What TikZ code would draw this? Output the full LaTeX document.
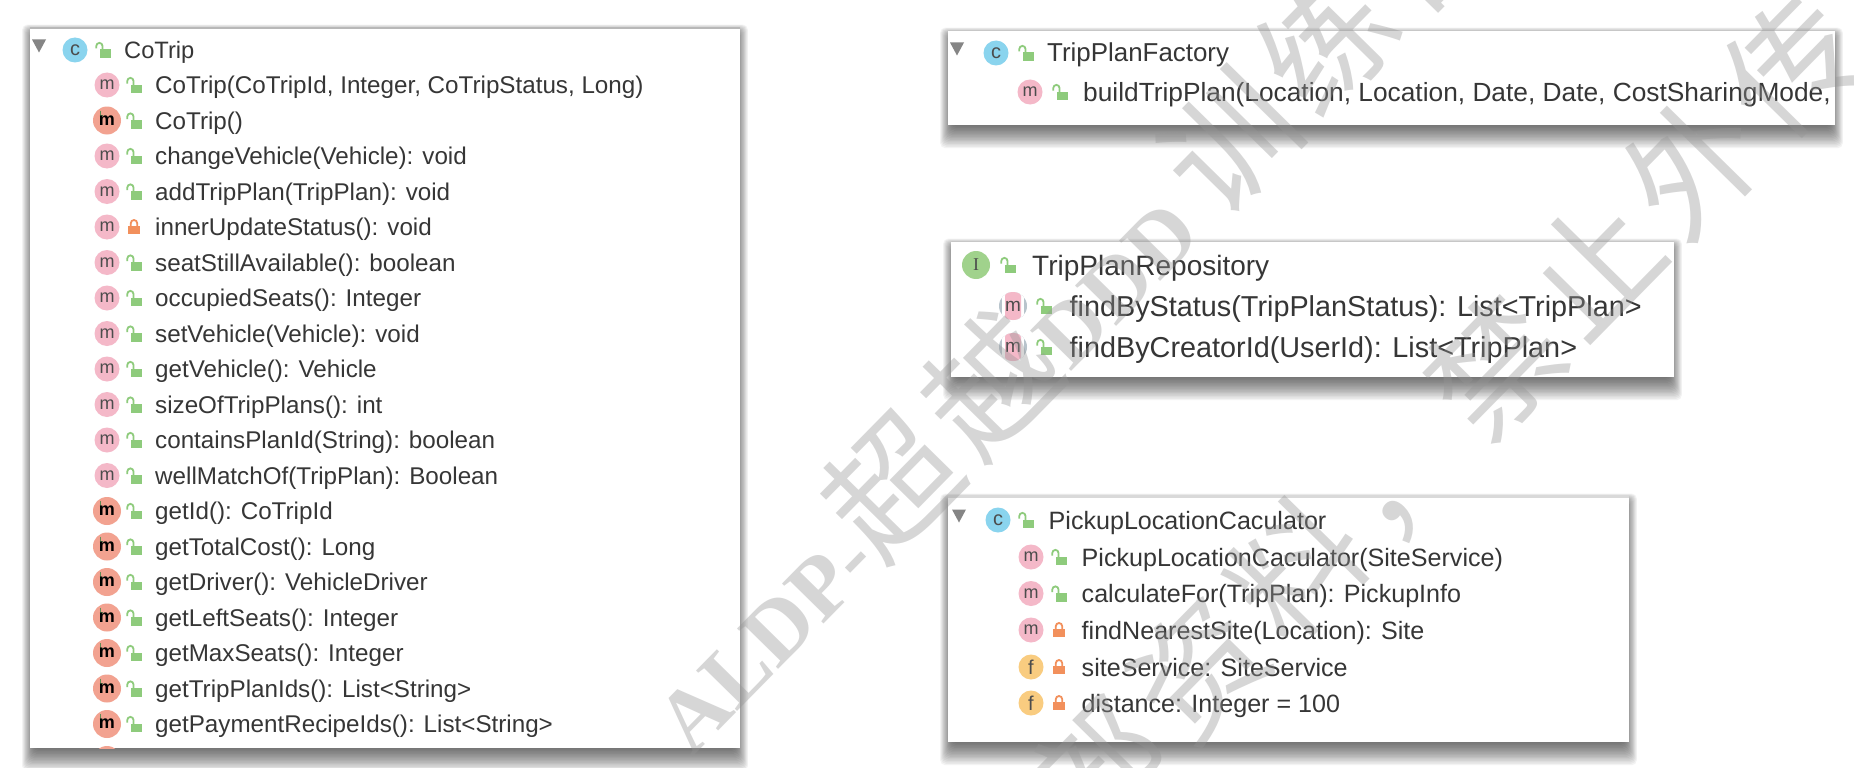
\documentclass[tikz,border=0pt]{standalone}
\usepackage{fontspec}
\setmainfont{Liberation Sans}
\newfontfamily\markfont{Liberation Serif}
\newfontfamily\cjkfont[LetterSpace=8.5]{Noto Sans CJK SC}
\usetikzlibrary{shapes.geometric}

\definecolor{pubpink}{HTML}{F4B8C8}
\definecolor{overred}{HTML}{F2A290}
\definecolor{classblue}{HTML}{8AD4EE}
\definecolor{ifacegreen}{HTML}{A0D28C}
\definecolor{fieldorange}{HTML}{F9CC80}
\definecolor{lockgreen}{HTML}{8ECB7C}
\definecolor{lockorange}{HTML}{F2905C}
\definecolor{labelgrey}{HTML}{363636}
\definecolor{ringgrey}{HTML}{B8C4CC}

\newcommand{\panelshadow}[4]{
\foreach \d in {1,...,16}
  \fill[black,opacity=.048,rounded corners=5pt] (#1+5-.8*\d,#2+7-.65*\d) rectangle (#3-5+.8*\d,#4+1.45*\d);
}
\newcommand{\marklatin}{\markfont\bfseries\fontsize{88}{88}\selectfont}
\newcommand{\markcjk}{\cjkfont\mdseries\fontsize{130}{130}\selectfont}

\tikzset{
  panel/.style={rectangle,fill=white,anchor=north west,inner sep=0pt},
  iconm/.style={circle,fill=pubpink,minimum size=25pt,inner sep=0pt,text=black!70,font=\fontsize{18}{18}\selectfont},
  iconover/.style={circle,fill=overred,minimum size=28pt,inner sep=0pt,font=\fontsize{18}{18}\bfseries\selectfont,
    path picture={\draw[lockgreen!70!black,line width=.7pt] ([xshift=-7pt,yshift=10pt]path picture bounding box.center) -- ++(0pt,-5pt) -- ++(3pt,0pt);}},
  iconc/.style={circle,fill=classblue,minimum size=25pt,inner sep=0pt,text=black!70,font=\fontsize{20}{20}\selectfont},
  iconi/.style={circle,fill=ifacegreen,minimum size=28pt,inner sep=0pt,text=black!70,font=\fontsize{18}{18}\markfont\selectfont},
  iconf/.style={circle,fill=fieldorange,minimum size=25pt,inner sep=0pt,text=black!70,font=\fontsize{20}{20}\selectfont},
  iconabs/.style={circle,fill=ringgrey,minimum size=28pt,inner sep=0pt,text=black!70,font=\fontsize{19}{19}\selectfont,
    path picture={
      \fill[white] ([xshift=-11pt,yshift=-15pt]path picture bounding box.center) rectangle ([xshift=11pt,yshift=15pt]path picture bounding box.center);
      \fill[pubpink,rounded corners=4pt] ([xshift=-8pt,yshift=-14pt]path picture bounding box.center) rectangle ([xshift=8pt,yshift=14pt]path picture bounding box.center);}},
  memberlabel/.style={anchor=base west,inner sep=0pt,text=labelgrey},
  cotripname/.style={font=\fontsize{23.7}{24}\selectfont},
  cotripfont/.style={font=\fontsize{24.2}{24}\selectfont},
  factoryname/.style={font=\fontsize{25.9}{26}\selectfont},
  factoryfont/.style={font=\fontsize{26.3}{26}\selectfont},
  reponame/.style={font=\fontsize{28}{28}\selectfont},
  repofont/.style={font=\fontsize{28.8}{28}\selectfont},
  pickupfont/.style={font=\fontsize{25.1}{25}\selectfont},
  watermark/.style={rotate=45.5,anchor=base west,inner sep=0pt,text=black!42,text opacity=.38},
  pics/lockopen/.style={code={
    \fill[lockgreen] (-3pt,-8pt) rectangle (7.5pt,.5pt);
    \draw[lockgreen,line width=1.8pt] (-6.7pt,1.5pt) -- (-6.7pt,4pt) arc (180:0:3.1pt) -- (-.5pt,0pt);
  }},
  pics/lockshut/.style={code={
    \fill[lockorange] (-6pt,-7pt) rectangle (6pt,1.5pt);
    \draw[lockorange,line width=1.8pt] (-3.2pt,1pt) -- (-3.2pt,3.8pt) arc (180:0:3.2pt) -- (3.2pt,1pt);
  }},
  pics/foldmark/.style={code={
    \fill[black!48] (-7pt,6.5pt) -- (7pt,6.5pt) -- (0pt,-6.5pt) -- cycle;
  }}
}

\begin{document}
\begin{tikzpicture}[x=1pt,y=-1pt]
\useasboundingbox (0,0) rectangle (1858,768);

\panelshadow{30}{28}{740}{748}
\panelshadow{948}{31}{1835}{125}
\panelshadow{951}{242}{1674}{377}
\panelshadow{948}{497}{1629}{742}

\node[panel,minimum width=710pt,minimum height=720pt] (cotrip) at (30,28) {};
\node[panel,minimum width=887pt,minimum height=94pt] (factory) at (948,31) {};
\node[panel,minimum width=723pt,minimum height=135pt] (repo) at (951,242) {};
\node[panel,minimum width=681pt,minimum height=245pt] (pickup) at (948,497) {};
\draw[black!28,line width=2.5pt] (cotrip.north west) -- (cotrip.north east);
\draw[black!15,line width=1.5pt] (pickup.north west) -- (pickup.north east);

% CoTrip
\pic at (39,46) {foldmark};
\node[iconc] (cotripclass) at (75,50) {c};
\pic at (103,50) {lockopen};
\node[memberlabel,cotripname] (cotriptitle) at (124,58.5) {CoTrip};
\foreach \i/\ic/\ltr/\lk/\txt [evaluate=\i as \y using 49.5+35.5*\i] in {
  1/iconm/m/lockopen/{CoTrip(CoTripId, Integer, CoTripStatus, Long)},
  2/iconover/m/lockopen/{CoTrip()},
  3/iconm/m/lockopen/{changeVehicle(Vehicle): void},
  4/iconm/m/lockopen/{addTripPlan(TripPlan): void},
  5/iconm/m/lockshut/{innerUpdateStatus(): void},
  6/iconm/m/lockopen/{seatStillAvailable(): boolean},
  7/iconm/m/lockopen/{occupiedSeats(): Integer},
  8/iconm/m/lockopen/{setVehicle(Vehicle): void},
  9/iconm/m/lockopen/{getVehicle(): Vehicle},
  10/iconm/m/lockopen/{sizeOfTripPlans(): int},
  11/iconm/m/lockopen/{containsPlanId(String): boolean},
  12/iconm/m/lockopen/{wellMatchOf(TripPlan): Boolean},
  13/iconover/m/lockopen/{getId(): CoTripId},
  14/iconover/m/lockopen/{getTotalCost(): Long},
  15/iconover/m/lockopen/{getDriver(): VehicleDriver},
  16/iconover/m/lockopen/{getLeftSeats(): Integer},
  17/iconover/m/lockopen/{getMaxSeats(): Integer},
  18/iconover/m/lockopen/{getTripPlanIds(): List<String>},
  19/iconover/m/lockopen/{getPaymentRecipeIds(): List<String>}}
{
  \node[\ic] (cotripicon\i) at (107,\y) {\ltr};
  \pic at (134,\y) {\lk};
  \node[memberlabel,cotripfont] (cotriptext\i) at (155,\y+8.5) {\txt};
}
\begin{scope}
\clip (cotrip.north west) rectangle (cotrip.south east);
\node[iconover] (cotripcut) at (107,760) {};
\end{scope}

% TripPlanFactory
\pic at (957,49) {foldmark};
\node[iconc] (factoryclass) at (996,53) {c};
\pic at (1026,53) {lockopen};
\node[memberlabel,factoryname] (factorytitle) at (1047,62) {TripPlanFactory};
\node[iconm] (factoryicon) at (1030,92) {m};
\pic at (1060,92) {lockopen};
\node[memberlabel,factoryfont] (factorytext) at (1083,101) {buildTripPlan(Location, Location, Date, Date, CostSharingMode,};

% TripPlanRepository
\node[iconi] (repoiface) at (976,265) {I};
\pic at (1008,265) {lockopen};
\node[memberlabel,reponame] (repotitle) at (1032,275) {TripPlanRepository};
\foreach \i/\y/\txt in {1/306/{findByStatus(TripPlanStatus): List<TripPlan>},2/347/{findByCreatorId(UserId): List<TripPlan>}}
{
  \node[iconabs] (repoicon\i) at (1013,\y) {m};
  \pic at (1044,\y) {lockopen};
  \node[memberlabel,repofont] (repotext\i) at (1069.5,\y+10) {\txt};
}

% PickupLocationCaculator
\pic at (959,516) {foldmark};
\node[iconc] (pickupclass) at (998,520) {c};
\pic at (1026,520) {lockopen};
\node[memberlabel,pickupfont] (pickuptitle) at (1048.5,529) {PickupLocationCaculator};
\foreach \i/\ic/\ltr/\lk/\y/\txt in {
  1/iconm/m/lockopen/557/{PickupLocationCaculator(SiteService)},
  2/iconm/m/lockopen/593.5/{calculateFor(TripPlan): PickupInfo},
  3/iconm/m/lockshut/630/{findNearestSite(Location): Site},
  4/iconf/f/lockshut/667/{siteService: SiteService},
  5/iconf/f/lockshut/703/{distance: Integer = 100}}
{
  \node[\ic] (pickupicon\i) at (1031,\y) {\ltr};
  \pic at (1059,\y) {\lk};
  \node[memberlabel,pickupfont] (pickuptext\i) at (1081.5,\y+9) {\txt};
}

\node[watermark] (markone) at (692,758) {\marklatin ALDP-\markcjk 超越\marklatin DDD\kern20pt\markcjk 训练营};
\node[watermark] (marktwo) at (990,951) {\markcjk 内部资料，禁止外传};
\end{tikzpicture}
\end{document}
